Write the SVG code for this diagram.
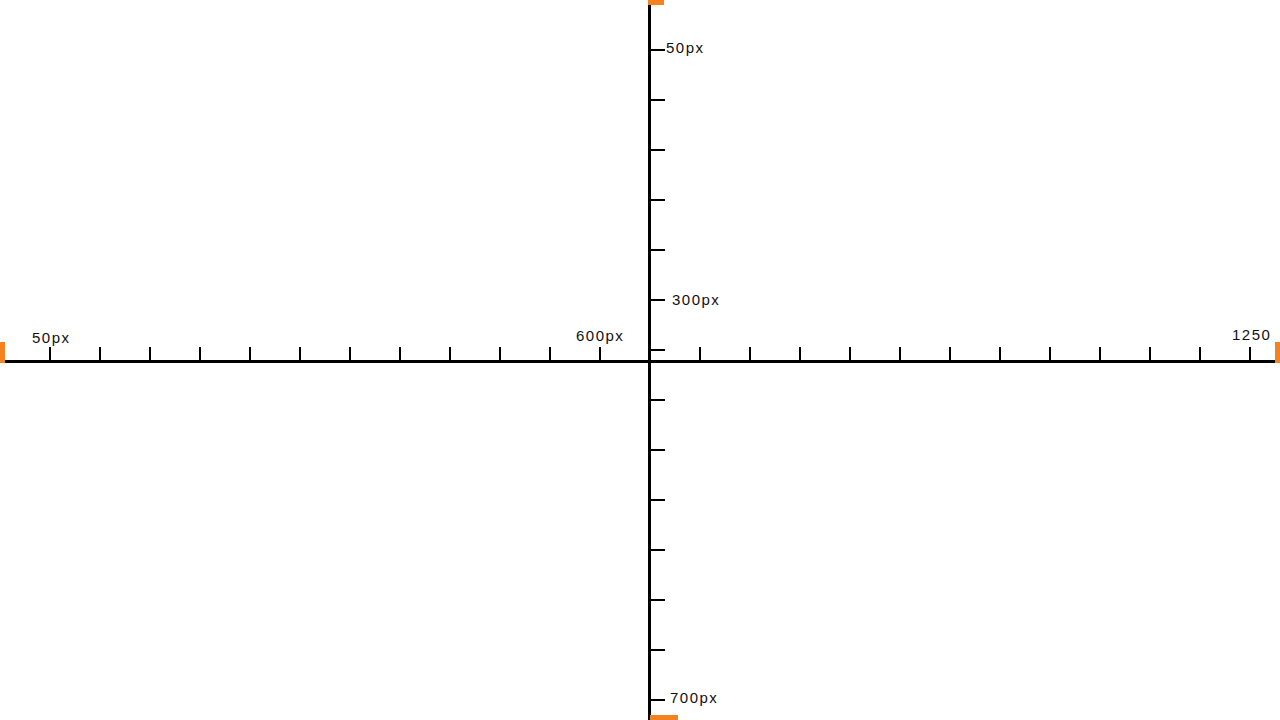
<svg xmlns="http://www.w3.org/2000/svg" width="1280" height="720" viewBox="0 0 1280 720">
<style>
.axis{stroke:#000;stroke-width:3}
.tick{stroke:#000;stroke-width:2}
.lbl{font-family:"Liberation Sans",Arial,sans-serif;font-size:15px;letter-spacing:1.5px;fill:#111}
.mark{fill:#f58220}
</style>
<rect width="1280" height="720" fill="#fff"/>
<g id="connectors">
<line class="axis" x1="0" y1="361.5" x2="1280" y2="361.5"/>
<line class="axis" x1="649.5" y1="0" x2="649.5" y2="720"/>
</g>
<g id="x-ticks">
<path class="tick" d="M50 347V361M100 347V361M150 347V361M200 347V361M250 347V361M300 347V361M350 347V361M400 347V361M450 347V361M500 347V361M550 347V361M600 347V361M700 347V361M750 347V361M800 347V361M850 347V361M900 347V361M950 347V361M1000 347V361M1050 347V361M1100 347V361M1150 347V361M1200 347V361M1250 347V361"/>
</g>
<g id="y-ticks">
<path class="tick" d="M650 50H665M650 100H665M650 150H665M650 200H665M650 250H665M650 300H665M650 350H665M650 400H665M650 450H665M650 500H665M650 550H665M650 600H665M650 650H665M650 700H665"/>
</g>
<g id="markers">
<rect class="mark" x="0" y="342" width="5" height="21"/>
<rect class="mark" x="1275" y="342" width="5" height="21"/>
<rect class="mark" x="648" y="0" width="16" height="5"/>
<rect class="mark" x="650" y="715" width="28" height="5"/>
</g>
<g id="labels">
<text class="lbl" x="666" y="53">50px</text>
<text class="lbl" x="672" y="305">300px</text>
<text class="lbl" x="670" y="703">700px</text>
<text class="lbl" x="32" y="343">50px</text>
<text class="lbl" x="576" y="341">600px</text>
<text class="lbl" x="1232" y="340">1250</text>
</g>
</svg>
